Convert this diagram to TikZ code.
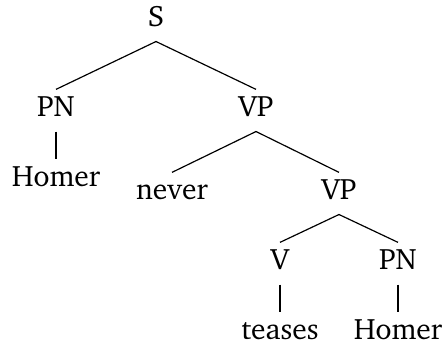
\documentclass[tikz,border=0pt]{standalone}
\usepackage[T1]{fontenc}
\usepackage{charter}
\usepackage{tikz}
\usetikzlibrary{positioning}

\tikzset{
    cat/.style={anchor=base, inner xsep=0pt, inner ysep=3pt,
        text height=8.4pt, text depth=2.9pt, font=\fontsize{12.4}{14}\selectfont},
    branch/.style={line width=0.5pt}
}

\begin{document}
\begin{tikzpicture}[x=0.42pt,y=-0.42pt]
    \useasboundingbox (0,0) rectangle (447,347);

    % Categories and words
    \node[cat] (s) at (156,27) {S};
    \node[cat] (pnA) at (56,117) {PN};
    \node[cat] (vpA) at (256,117) {VP};
    \node[cat] (homerA) at (56,187) {Homer};
    \node[cat] (never) at (172,200) {never};
    \node[cat] (vpB) at (339,200) {VP};
    \node[cat] (v) at (280,270) {V};
    \node[cat] (pnB) at (398,270) {PN};
    \node[cat] (teases) at (280,340) {teases};
    \node[cat] (homerB) at (398,340) {Homer};

    % Branches
    \draw[branch] (s.south) -- (pnA.north);
    \draw[branch] (s.south) -- (vpA.north);
    \draw[branch] (pnA.south) -- (homerA.north);
    \draw[branch] (vpA.south) -- (never.north);
    \draw[branch] (vpA.south) -- (vpB.north);
    \draw[branch] (vpB.south) -- (v.north);
    \draw[branch] (vpB.south) -- (pnB.north);
    \draw[branch] (v.south) -- (teases.north);
    \draw[branch] (pnB.south) -- (homerB.north);
\end{tikzpicture}
\end{document}
